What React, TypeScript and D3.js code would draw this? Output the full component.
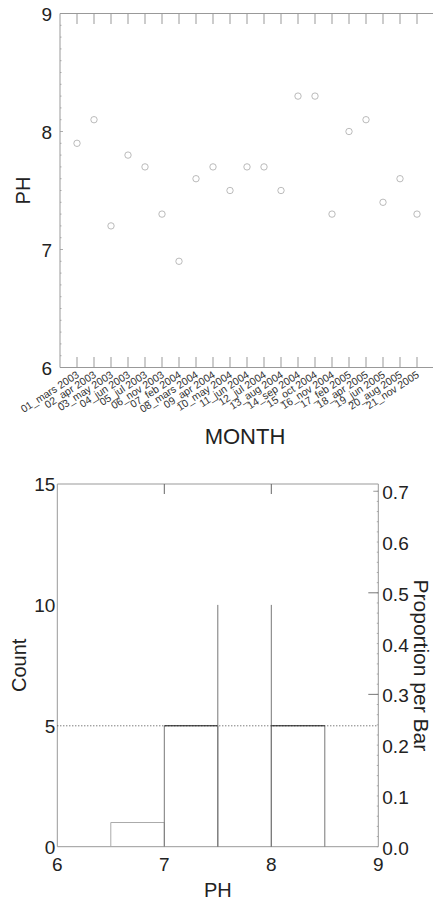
import React from "react";
import * as d3 from "d3";

// Sampling months and measured pH
const months = [
  "01_mars 2003", "02_apr 2003", "03_may 2003", "04_jun 2003", "05_jul 2003",
  "06_nov 2003", "07_feb 2004", "08_mars 2004", "09_apr 2004", "10_may 2004",
  "11_jun 2004", "12_jul 2004", "13_aug 2004", "14_sep 2004", "15_oct 2004",
  "16_nov 2004", "17_feb 2005", "18_apr 2005", "19_jun 2005", "20_aug 2005",
  "21_nov 2005",
];
const ph = [
  7.9, 8.1, 7.2, 7.8, 7.7, 7.3, 6.9, 7.6, 7.7, 7.5, 7.7,
  7.7, 7.5, 8.3, 8.3, 7.3, 8.0, 8.1, 7.4, 7.6, 7.3,
];

// Axis ticks
const phTicks = [6, 7, 8, 9];
const countTicks = [0, 5, 10, 15];
const propTicks = [0, 0.1, 0.2, 0.3, 0.4, 0.5, 0.6, 0.7];
const binEdges = [6.5, 7, 7.5, 8, 8.5];

const FONT = "'Liberation Sans', Arial, sans-serif";

export default function App() {
  const W = 433;
  const H = 900;

  // ---- scatter: pH by month ----
  const top = { left: 60, right: 434, top: 13.5, bottom: 367.5 };
  const x1 = d3.scalePoint<string>().domain(months).range([top.left, top.right]).padding(1);
  const y1 = d3.scaleLinear().domain([6, 9]).range([top.bottom, top.top]);
  const minorPh = d3.range(60, 91).map((v) => v / 10);

  // ---- histogram of pH ----
  const hb = { left: 57.3, right: 378.3, top: 484, bottom: 846.7 };
  const x2 = d3.scaleLinear().domain([6, 9]).range([hb.left, hb.right]);
  const y2 = d3.scaleLinear().domain([0, 15]).range([hb.bottom, hb.top]);
  const yProp = d3.scaleLinear().domain([0, 15 / ph.length]).range([hb.bottom, hb.top]);
  const bins = d3.bin().domain([6, 9]).thresholds(binEdges)(ph);
  const minorProp = d3.range(0, 36).map((i) => i * 0.02).filter((p) => p <= 15 / ph.length);

  const sideColor = "#777";
  const topColor = (n: number, max: number) => (n === max ? "none" : n <= 1 ? "#aaa" : "#111");
  const maxCount = d3.max(bins, (b) => b.length) || 0;

  return (
    <svg width={W} height={H} style={{ position: "absolute", left: 0, top: 0, background: "#fff" }} fontFamily={FONT}>
      {/* ===== Scatter ===== */}
      <g>
        <line x1={top.left} x2={W} y1={top.top} y2={top.top} stroke="#999" />
        <line x1={top.left} x2={W} y1={top.bottom} y2={top.bottom} stroke="#999" />
        <line x1={top.left} x2={top.left} y1={top.top} y2={top.bottom} stroke="#999" />
        {minorPh.map((v) => (
          <line key={v} x1={top.left} x2={top.left + (Number.isInteger(v) ? 3 : 1.5)} y1={y1(v)} y2={y1(v)} stroke="#999" strokeWidth={0.8} />
        ))}
        {months.map((m) => (
          <g key={m}>
            <line x1={x1(m)} x2={x1(m)} y1={top.top} y2={top.top + 10.5} stroke="#999" />
            <line x1={x1(m)} x2={x1(m)} y1={top.bottom} y2={top.bottom - 10.5} stroke="#999" />
            <text
              transform={`translate(${(x1(m) as number) + 3},${top.bottom + 9}) rotate(-33)`}
              textAnchor="end"
              fontSize={10.5}
              fill="#333"
            >
              {m}
            </text>
          </g>
        ))}
        {phTicks.map((t) => (
          <text key={t} x={top.left - 8} y={y1(t) + 7} textAnchor="end" fontSize={19} fill="#222">
            {t}
          </text>
        ))}
        {ph.map((v, i) => (
          <circle key={i} cx={x1(months[i])} cy={y1(v)} r={3.2} fill="none" stroke="#aaa" strokeWidth={0.8} />
        ))}
        <text transform={`translate(30,${(top.top + top.bottom) / 2}) rotate(-90)`} textAnchor="middle" fontSize={20} fill="#222">
          PH
        </text>
        <text x={245} y={444} textAnchor="middle" fontSize={22} fill="#222">
          MONTH
        </text>
      </g>

      {/* ===== Histogram ===== */}
      <g>
        <line x1={hb.left} x2={hb.right} y1={hb.top} y2={hb.top} stroke="#999" />
        <line x1={hb.left} x2={hb.right} y1={hb.bottom} y2={hb.bottom} stroke="#999" />
        <line x1={hb.left} x2={hb.left} y1={hb.top} y2={hb.bottom} stroke="#999" />
        <line x1={hb.right} x2={hb.right} y1={hb.top} y2={hb.bottom} stroke="#999" />
        {[7, 8].map((t) => (
          <line key={t} x1={x2(t)} x2={x2(t)} y1={hb.top} y2={hb.top + 10} stroke="#666" />
        ))}
        {minorProp.map((p) => (
          <line key={p} x1={hb.right} x2={hb.right - 1.5} y1={yProp(p)} y2={yProp(p)} stroke="#999" strokeWidth={0.8} />
        ))}
        {[0.3, 0.5].map((p) => (
          <line key={p} x1={hb.right} x2={hb.right - 10} y1={yProp(p)} y2={yProp(p)} stroke="#777" />
        ))}
        <line x1={hb.right} x2={hb.right - 5} y1={yProp(0.7)} y2={yProp(0.7)} stroke="#999" />

        {/* reference line at count 5 */}
        <line x1={hb.left} x2={hb.right} y1={y2(5)} y2={y2(5)} stroke="#444" strokeDasharray="1,2" />

        {bins
          .filter((b) => b.length > 0)
          .map((b, i) => {
            const xa = x2(b.x0 as number);
            const xb = x2(b.x1 as number);
            const yt = y2(b.length);
            const side = b.length <= 1 ? "#aaa" : sideColor;
            return (
              <g key={i}>
                <line x1={xa} x2={xa} y1={hb.bottom} y2={yt} stroke={side} />
                <line x1={xb} x2={xb} y1={hb.bottom} y2={yt} stroke={side} />
                <line x1={xa} x2={xb} y1={yt} y2={yt} stroke={topColor(b.length, maxCount)} />
              </g>
            );
          })}

        {countTicks.map((t) => (
          <text key={t} x={hb.left - 2} y={y2(t) + 7} textAnchor="end" fontSize={19} fill="#222">
            {t}
          </text>
        ))}
        {propTicks.map((p) => (
          <text key={p} x={hb.right + 4} y={yProp(p) + 8} textAnchor="start" fontSize={19} fill="#222">
            {p.toFixed(1)}
          </text>
        ))}
        {phTicks.map((t) => (
          <text key={t} x={x2(t)} y={871} textAnchor="middle" fontSize={19} fill="#222">
            {t}
          </text>
        ))}
        <text x={(hb.left + hb.right) / 2} y={897} textAnchor="middle" fontSize={20} fill="#222">
          PH
        </text>
        <text transform={`translate(26,${(hb.top + hb.bottom) / 2}) rotate(-90)`} textAnchor="middle" fontSize={20} fill="#222">
          Count
        </text>
        <text transform={`translate(414,${(hb.top + hb.bottom) / 2}) rotate(90)`} textAnchor="middle" fontSize={21} fill="#222">
          Proportion per Bar
        </text>
      </g>
    </svg>
  );
}
